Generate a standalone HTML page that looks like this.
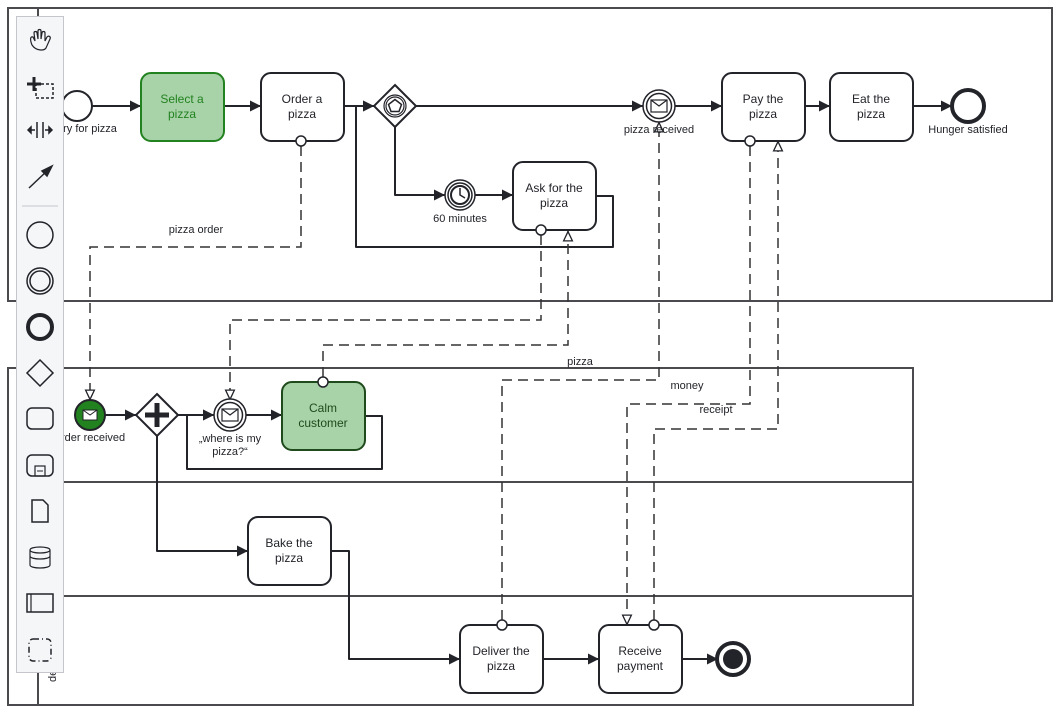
<!DOCTYPE html>
<html><head><meta charset="utf-8"><style>
html,body{margin:0;padding:0;background:#fff;width:1060px;height:719px;overflow:hidden}
svg{display:block;font-family:"Liberation Sans",Arial,sans-serif}
</style></head><body>
<svg width="1060" height="719" viewBox="0 0 1060 719" xmlns="http://www.w3.org/2000/svg">
<defs>
<marker id="a" viewBox="0 0 10 10" refX="10" refY="5" markerWidth="11" markerHeight="11" markerUnits="userSpaceOnUse" orient="auto"><path d="M0,0 L10,5 L0,10 z" fill="#22242a"/></marker>
<marker id="o" viewBox="0 0 10 10" refX="10" refY="5" markerWidth="11" markerHeight="11" markerUnits="userSpaceOnUse" orient="auto"><path d="M1,1 L9.5,5 L1,9 z" fill="#fff" stroke="#22242a" stroke-width="1.2"/></marker>
</defs>
<g fill="none" stroke="#4a4a4f" stroke-width="2">
<rect x="8" y="8" width="1044" height="293"/>
<line x1="38" y1="8" x2="38" y2="301"/>
<rect x="8" y="368" width="905" height="337"/>
<line x1="38" y1="368" x2="38" y2="705"/>
<line x1="38" y1="482" x2="913" y2="482"/>
<line x1="38" y1="596" x2="913" y2="596"/>
</g>
<g fill="none" stroke="#22242a" stroke-width="2" stroke-linejoin="round">
<path d="M92,106 H141" marker-end="url(#a)"/>
<path d="M224,106 H261" marker-end="url(#a)"/>
<path d="M344,106 H374" marker-end="url(#a)"/>
<path d="M416,106 H643" marker-end="url(#a)"/>
<path d="M675,106 H722" marker-end="url(#a)"/>
<path d="M805,106 H830" marker-end="url(#a)"/>
<path d="M913,106 H952" marker-end="url(#a)"/>
<path d="M395,127 V195 H445" marker-end="url(#a)"/>
<path d="M475,195 H513" marker-end="url(#a)"/>
<path d="M596,196 H613 V247 H356 V106 H374" marker-end="url(#a)"/>
<path d="M105,415 H136" marker-end="url(#a)"/>
<path d="M178,415 H214" marker-end="url(#a)"/>
<path d="M246,415 H282" marker-end="url(#a)"/>
<path d="M365,416 H382 V469 H187 V415 H214" marker-end="url(#a)"/>
<path d="M157,436 V551 H248" marker-end="url(#a)"/>
<path d="M331,551 H349 V659 H460" marker-end="url(#a)"/>
<path d="M543,659 H599" marker-end="url(#a)"/>
<path d="M682,659 H718" marker-end="url(#a)"/>
</g>
<g fill="none" stroke="#333" stroke-width="1.5" stroke-dasharray="10,6">
<path d="M301,146 V247 H90 V400" marker-end="url(#o)"/>
<path d="M541,235 V320 H230 V400" marker-end="url(#o)"/>
<path d="M323,377 V345 H568 V231" marker-end="url(#o)"/>
<path d="M502,620 V380 H659 V122" marker-end="url(#o)"/>
<path d="M750,146 V404 H627 V625" marker-end="url(#o)"/>
<path d="M654,620 V429 H778 V141" marker-end="url(#o)"/>
</g>
<g stroke-width="2" fill="#fff" stroke="#22242a">
<rect x="141" y="73" width="83" height="68" rx="10" fill="#a8d3a9" stroke="#22821f"/>
<rect x="261" y="73" width="83" height="68" rx="10"/>
<rect x="722" y="73" width="83" height="68" rx="10"/>
<rect x="830" y="73" width="83" height="68" rx="10"/>
<rect x="513" y="162" width="83" height="68" rx="10"/>
<rect x="282" y="382" width="83" height="68" rx="10" fill="#a8d3a9" stroke="#1e4a1c"/>
<rect x="248" y="517" width="83" height="68" rx="10"/>
<rect x="460" y="625" width="83" height="68" rx="10"/>
<rect x="599" y="625" width="83" height="68" rx="10"/>
</g>
<g fill="#fff" stroke="#22242a" stroke-width="1.5">
<circle cx="301" cy="141" r="5"/><circle cx="541" cy="230" r="5"/><circle cx="323" cy="382" r="5"/>
<circle cx="502" cy="625" r="5"/><circle cx="750" cy="141" r="5"/><circle cx="654" cy="625" r="5"/>
</g>
<g font-size="12" text-anchor="middle" fill="#22242a">
<text x="182" y="103" fill="#22821f">Select a</text><text x="182" y="118" fill="#22821f">pizza</text>
<text x="302" y="103">Order a</text><text x="302" y="118">pizza</text>
<text x="763" y="103">Pay the</text><text x="763" y="118">pizza</text>
<text x="871" y="103">Eat the</text><text x="871" y="118">pizza</text>
<text x="554" y="192">Ask for the</text><text x="554" y="207">pizza</text>
<text x="323" y="412" fill="#1e4a1c">Calm</text><text x="323" y="427" fill="#1e4a1c">customer</text>
<text x="289" y="547">Bake the</text><text x="289" y="562">pizza</text>
<text x="501" y="655">Deliver the</text><text x="501" y="670">pizza</text>
<text x="640" y="655">Receive</text><text x="640" y="670">payment</text>
</g>
<g stroke="#22242a" fill="#fff">
<circle cx="77" cy="106" r="15" stroke-width="2"/>
<circle cx="968" cy="106" r="16" stroke-width="4"/>
<circle cx="659" cy="106" r="16" stroke-width="1.5"/><circle cx="659" cy="106" r="12.5" stroke-width="1.5"/>
<rect x="651" y="100" width="16" height="12" stroke-width="1.2"/><path d="M651,100 L659,106 L667,100" fill="none" stroke-width="1.2"/>
<circle cx="460" cy="195" r="15" stroke-width="1.5"/><circle cx="460" cy="195" r="12" stroke-width="1.5"/><circle cx="460" cy="195" r="9" stroke-width="2"/>
<path d="M460,188 V195 L465,198" fill="none" stroke-width="1.5"/>
<path d="M395,85 L416,106 L395,127 L374,106 Z" stroke-width="2"/>
<circle cx="395" cy="106" r="11" stroke-width="1.2"/><circle cx="395" cy="106" r="9" stroke-width="1.2"/>
<path d="M395,99.5 L401.5,104.5 L399,111.5 H391 L388.5,104.5 Z" stroke-width="1.5"/>
<circle cx="90" cy="415" r="15" fill="#22821f" stroke-width="2"/>
<rect x="83" y="410" width="14" height="10" stroke-width="1"/><path d="M83,410 L90,415 L97,410" fill="none" stroke-width="1"/>
<path d="M157,394 L178,415 L157,436 L136,415 Z" stroke-width="2"/>
<path d="M157,403 V427 M145,415 H169" stroke-width="5"/>
<circle cx="230" cy="415" r="16" stroke-width="1.5"/><circle cx="230" cy="415" r="12.5" stroke-width="1.5"/>
<rect x="222" y="409" width="16" height="12" stroke-width="1.2"/><path d="M222,409 L230,415 L238,409" fill="none" stroke-width="1.2"/>
<circle cx="733" cy="659" r="16" stroke-width="4"/><circle cx="733" cy="659" r="10" fill="#22242a" stroke="none"/>
</g>
<g font-size="11" text-anchor="middle" fill="#22242a">
<text x="90" y="132">ry for pizza</text>
<text x="659" y="133">pizza received</text>
<text x="968" y="133">Hunger satisfied</text>
<text x="460" y="222">60 minutes</text>
<text x="90" y="441">order received</text>
<text x="230" y="442">„where is my</text><text x="230" y="455">pizza?“</text>
<text x="196" y="233">pizza order</text>
<text x="580" y="365">pizza</text>
<text x="687" y="389">money</text>
<text x="716" y="413">receipt</text>
<text transform="translate(56,682) rotate(-90)" text-anchor="start">de</text>
</g>
<rect x="16.5" y="16.5" width="47" height="656" fill="#f5f6f8" stroke="#c4c6cc"/>
<g fill="none" stroke="#22242a" stroke-width="1.5">
<path d="M32,45 C30,40 30,36 33,37 L35,41 L34,33 C34,31 37,31 37,33 L38,39 L38,31 C38,29 41,29 41,31 L41,39 L42,33 C42,31 45,31 45,33 L45,41 L47,37 C49,35 51,37 50,39 L46,48 C44,51 36,51 32,45 Z" stroke-width="1.2"/>
<path d="M34,77 V91 M27,84 H41" stroke-width="3"/>
<rect x="36" y="84" width="17" height="14" stroke-dasharray="3,2"/>
<path d="M37,122 V138 M43,122 V138"/><path d="M28,130 H35 M52,130 H45"/>
<path d="M28,130 l3,-3 v6 z M52,130 l-3,-3 v6 z" fill="#22242a"/>
<path d="M29,188 L48,170"/><path d="M52,166 L42,171 L47,176 Z" fill="#22242a"/>
</g>
<line x1="22" y1="206" x2="58" y2="206" stroke="#c4c6cc"/>
<g fill="none" stroke="#22242a">
<circle cx="40" cy="235" r="13" stroke-width="1.5"/>
<circle cx="40" cy="281" r="13" stroke-width="1.5"/><circle cx="40" cy="281" r="10" stroke-width="1.5"/>
<circle cx="40" cy="327" r="12" stroke-width="4"/>
<path d="M40,360 L53,373 L40,386 L27,373 Z" stroke-width="1.5"/>
<rect x="27" y="408" width="26" height="21" rx="5" stroke-width="1.5"/>
<rect x="27" y="455" width="26" height="21" rx="5" stroke-width="1.5"/><rect x="35" y="466" width="10" height="10" stroke-width="1.2"/><path d="M37,471 H43"/>
<path d="M32,500 H43 L48,505 V522 H32 Z" stroke-width="1.5"/>
<path d="M30,550 V565 C30,569 50,569 50,565 V550 C50,546 30,546 30,550 C30,554 50,554 50,550 M30,556 C30,560 50,560 50,556" stroke-width="1.2"/>
<rect x="27" y="594" width="26" height="18" stroke-width="1.5"/><line x1="31" y1="594" x2="31" y2="612" stroke-width="1.2"/>
<rect x="29" y="639" width="22" height="22" rx="4" stroke-width="1.5" stroke-dasharray="6,3,1,3"/>
</g>
</svg>
</body></html>
